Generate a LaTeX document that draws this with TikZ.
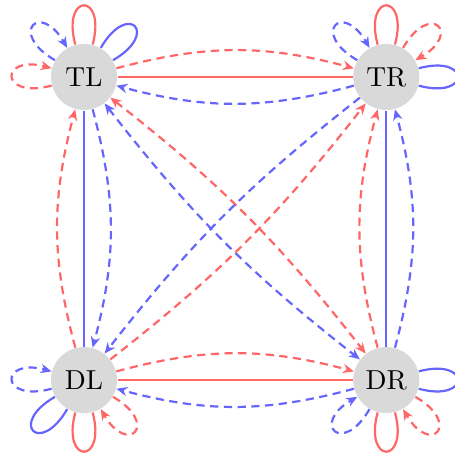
\documentclass[tikz,border=0pt]{standalone}
\usepackage{tikz}
\usetikzlibrary{arrows.meta}

\begin{document}
\begin{tikzpicture}[
            >={Stealth[length=4pt, width=3.4pt, inset=1.3pt]},
            every loop/.style={},
            state/.style={circle, fill=gray!30, minimum size=0.845cm, inner sep=0pt},
            redline/.style={red!60, thick},
            blueline/.style={blue!60, thick},
            move/.style={dash pattern=on 3pt off 2pt, ->},
            twoway/.style={dash pattern=on 3pt off 2pt, <->}
        ]
            \useasboundingbox (-1.075,0.985) rectangle (4.749,-4.852);

            % Estados
            \node[state] (TL) at (0,0) {TL};
            \node[state] (TR) at (3.87,0) {TR};
            \node[state] (DL) at (0,-3.88) {DL};
            \node[state] (DR) at (3.87,-3.88) {DR};

            % Aristas rectas (sin flecha)
            \draw[redline] (TL) -- (TR);
            \draw[redline] (DL) -- (DR);
            \draw[blueline] (TL) -- (DL);
            \draw[blueline] (TR) -- (DR);

            % Aristas curvas entre vecinos
            \draw[redline, move] (TL) to[bend left=15] (TR);
            \draw[blueline, move] (TR) to[bend left=15] (TL);
            \draw[redline, move] (DL) to[bend left=15] (DR);
            \draw[blueline, move] (DR) to[bend left=15] (DL);
            \draw[redline, move] (DL) to[bend left=15] (TL);
            \draw[blueline, move] (TL) to[bend left=15] (DL);
            \draw[redline, move] (DR) to[bend left=15] (TR);
            \draw[blueline, move] (DR) to[bend right=15] (TR);

            % Diagonales
            \draw[redline, twoway] (TL) to[bend left=7] (DR);
            \draw[blueline, twoway] (TL) to[bend right=7] (DR);
            \draw[blueline, move] (TR) to[bend right=7] (DL);
            \draw[redline, move] (DL) to[bend right=7] (TR);

            % Lazos de TL
            \draw[redline] (TL) to[out=105, in=75, loop] (TL);
            \draw[blueline] (TL) to[out=60, in=30, loop] (TL);
            \draw[blueline, move] (TL) to[out=150, in=120, loop] (TL);
            \draw[redline, move] (TL) to[out=195, in=165, loop] (TL);

            % Lazos de TR
            \draw[redline] (TR) to[out=105, in=75, loop] (TR);
            \draw[blueline] (TR) to[out=15, in=-15, loop] (TR);
            \draw[blueline, move] (TR) to[out=150, in=120, loop] (TR);
            \draw[redline, move] (TR) to[out=60, in=30, loop] (TR);

            % Lazos de DL
            \draw[blueline, move] (DL) to[out=195, in=165, loop] (DL);
            \draw[blueline] (DL) to[out=240, in=210, loop] (DL);
            \draw[redline] (DL) to[out=285, in=255, loop] (DL);
            \draw[redline, move] (DL) to[out=330, in=300, loop] (DL);

            % Lazos de DR
            \draw[blueline] (DR) to[out=15, in=-15, loop] (DR);
            \draw[redline] (DR) to[out=285, in=255, loop] (DR);
            \draw[blueline, move] (DR) to[out=240, in=210, loop] (DR);
            \draw[redline, move] (DR) to[out=330, in=300, loop] (DR);

        \end{tikzpicture}
\end{document}
